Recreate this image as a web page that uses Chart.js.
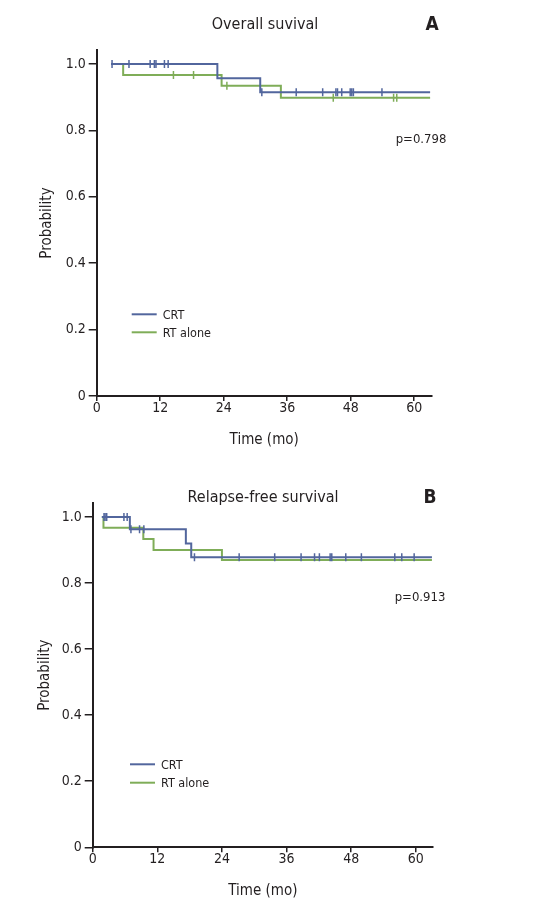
<!DOCTYPE html>
<html>
<head>
<meta charset="utf-8">
<script src="https://cdn.jsdelivr.net/npm/chart.js@4.4.1/dist/chart.umd.min.js"></script>
<style>
  html, body { margin: 0; padding: 0; background: #fff; }
  canvas { display: block; }
</style>
</head>
<body>
<canvas id="os" width="553" height="450"></canvas>
<canvas id="rfs" width="553" height="451"></canvas>
<script>
const FONT = "'Liberation Sans Narrow', 'DejaVu Sans Condensed', 'Liberation Sans', sans-serif";
const BLUE = '#52669d';
const GREEN = '#7fad58';

const armLabels = ['CRT', 'RT alone'];
const xTicks = [0, 12, 24, 36, 48, 60];
const yTicks = [0, 0.2, 0.4, 0.6, 0.8, 1.0];

// A: overall survival
const osTitle = 'Overall suvival';
const osPValue = 'p=0.798';
const osCrtTime = [2.7, 22.8, 30.9, 63];
const osCrtSurv = [1.0, 0.957, 0.915, 0.915];
const osCrtCensor = [2.9, 6.1, 10.1, 10.9, 11.2, 12.8, 13.5, 31.2, 37.7, 42.7, 45.2, 45.5, 46.3, 47.9, 48.2, 48.5, 53.9];
const osRtTime = [2.7, 5.0, 23.6, 34.8, 63];
const osRtSurv = [1.0, 0.967, 0.934, 0.898, 0.898];
const osRtCensor = [14.5, 18.3, 24.6, 44.7, 56.1, 56.7];

// B: relapse-free survival
const rfsTitle = 'Relapse-free survival';
const rfsPValue = 'p=0.913';
const rfsCrtTime = [1.7, 6.9, 17.3, 18.3, 63];
const rfsCrtSurv = [1.0, 0.963, 0.92, 0.878, 0.878];
const rfsCrtCensor = [2.1, 2.3, 2.6, 5.8, 6.4, 7.1, 8.7, 9.5, 18.9, 27.2, 33.8, 38.7, 41.2, 42.1, 44.1, 44.4, 47.0, 49.9, 56.1, 57.4, 59.7];
const rfsRtTime = [1.7, 2.0, 9.4, 11.3, 24.0, 63];
const rfsRtSurv = [1.0, 0.967, 0.933, 0.90, 0.870, 0.870];
const rfsRtCensor = [];

function steps(times, surv) {
  return times.map((t, i) => ({ x: t, y: surv[i] }));
}

// censor marks sit on the curve level at that time
function marks(censor, times, surv) {
  return censor.map(t => {
    let i = 0;
    while (i + 1 < times.length && times[i + 1] <= t) i++;
    return { x: t, y: surv[i] };
  });
}

function makeKM(id, d, g) {
  const textPlugin = {
    id: 'kmText',
    afterDraw(chart) {
      const ctx = chart.ctx;
      ctx.save();
      ctx.fillStyle = '#231f20';
      ctx.textBaseline = 'middle';
      ctx.textAlign = 'center';
      ctx.font = '16px ' + FONT;
      ctx.fillText(d.title, g.titleX, g.titleY);
      ctx.font = 'bold 19px ' + FONT;
      ctx.fillText(d.letter, g.letterX, g.titleY);
      ctx.font = '13px ' + FONT;
      ctx.fillText(d.p, g.pX, g.pY);
      // legend
      ctx.textAlign = 'left';
      ctx.font = '12.5px ' + FONT;
      [BLUE, GREEN].forEach((c, i) => {
        const y = g.legY + i * g.legGap;
        ctx.strokeStyle = c;
        ctx.lineWidth = 2;
        ctx.beginPath();
        ctx.moveTo(g.legX, y);
        ctx.lineTo(g.legX + 25, y);
        ctx.stroke();
        ctx.fillText(armLabels[i], g.legX + 31, y + 1);
      });
      ctx.restore();
    }
  };

  const curve = (data, color) => ({
    data, showLine: true, stepped: 'before', borderColor: color, borderWidth: 2,
    pointRadius: 0, fill: false
  });
  const cens = (data, color) => ({
    data, showLine: false, pointStyle: 'line', rotation: 90, pointRadius: 4,
    borderColor: color, backgroundColor: color, pointBorderWidth: 1.5
  });

  new Chart(document.getElementById(id), {
    type: 'scatter',
    data: {
      datasets: [
        cens(marks(d.crtCensor, d.crtTime, d.crtSurv), BLUE),
        cens(marks(d.rtCensor, d.rtTime, d.rtSurv), GREEN),
        curve(steps(d.crtTime, d.crtSurv), BLUE),
        curve(steps(d.rtTime, d.rtSurv), GREEN)
      ]
    },
    options: {
      responsive: false,
      animation: false,
      layout: { padding: { left: 0, top: g.top, right: g.right, bottom: 0 } },
      plugins: { legend: { display: false }, tooltip: { enabled: false } },
      scales: {
        x: {
          type: 'linear', min: 0, max: g.xMax,
          afterBuildTicks: s => { s.ticks = xTicks.map(v => ({ value: v })); },
          afterFit: s => { s.height = g.xH; },
          grid: { drawOnChartArea: false, drawTicks: true, tickLength: 5, color: '#231f20', lineWidth: 1.5 },
          border: { display: true, color: '#231f20', width: 2 },
          ticks: { color: '#231f20', font: { family: FONT, size: 14 }, padding: -1, maxRotation: 0 },
          title: { display: true, text: 'Time (mo)', color: '#231f20', font: { family: FONT, size: 15 }, padding: { top: 0, bottom: g.xTitlePad } }
        },
        y: {
          type: 'linear', min: 0, max: g.yMax,
          afterBuildTicks: s => { s.ticks = yTicks.map(v => ({ value: v })); },
          afterFit: s => { s.width = g.left; },
          grid: { drawOnChartArea: false, drawTicks: true, tickLength: 8, color: '#231f20', lineWidth: 1.5 },
          border: { display: true, color: '#231f20', width: 2 },
          ticks: {
            color: '#231f20', font: { family: FONT, size: 14 }, padding: 3,
            callback: v => v === 0 ? '0' : v.toFixed(1)
          },
          title: { display: true, text: 'Probability', color: '#231f20', font: { family: FONT, size: 15 }, padding: { top: g.yTitlePad, bottom: 0 } }
        }
      }
    },
    plugins: [textPlugin]
  });
}

makeKM('os', {
  title: osTitle, letter: 'A', p: osPValue,
  crtTime: osCrtTime, crtSurv: osCrtSurv, crtCensor: osCrtCensor,
  rtTime: osRtTime, rtSurv: osRtSurv, rtCensor: osRtCensor
}, {
  left: 96.7, right: 553 - 431.7, top: 50, xH: 54, xMax: 63.3, yMax: 1.042,
  xTitlePad: 1, yTitlePad: 38,
  titleX: 265, titleY: 25, letterX: 432, pX: 421, pY: 140,
  legX: 131.7, legY: 314.3, legGap: 18
});

makeKM('rfs', {
  title: rfsTitle, letter: 'B', p: rfsPValue,
  crtTime: rfsCrtTime, crtSurv: rfsCrtSurv, crtCensor: rfsCrtCensor,
  rtTime: rfsRtTime, rtSurv: rfsRtSurv, rtCensor: rfsRtCensor
}, {
  left: 92.7, right: 553 - 433, top: 53.1, xH: 53.7, xMax: 63.2, yMax: 1.042,
  xTitlePad: 1, yTitlePad: 36,
  titleX: 263, titleY: 48, letterX: 430, pX: 420, pY: 148,
  legX: 130, legY: 314.3, legGap: 18.4
});
</script>
</body>
</html>
